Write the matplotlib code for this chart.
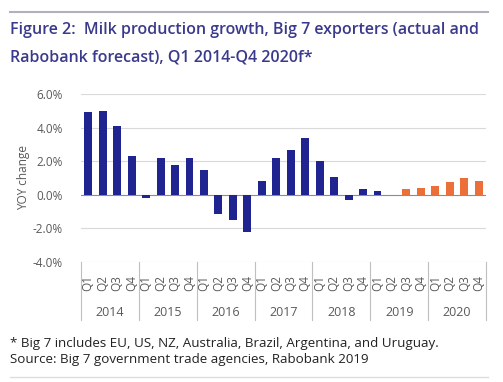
import matplotlib
matplotlib.use("Agg")
import matplotlib.pyplot as plt

years = ["2014", "2015", "2016", "2017", "2018", "2019", "2020"]
quarters = ["Q1", "Q2", "Q3", "Q4"]
actual = [4.95, 5.0, 4.1, 2.3,
          -0.2, 2.2, 1.75, 2.2,
          1.5, -1.15, -1.5, -2.2,
          0.82, 2.22, 2.68, 3.38,
          2.0, 1.03, -0.32, 0.37,
          0.2, -0.03]
forecast = [0.33, 0.39, 0.53, 0.74, 1.0, 0.84]
yticks = [-4, -2, 0, 2, 4, 6]

blue = "#1f2490"
orange = "#ec6f3a"
title_col = "#3a3a8c"
grey = "#595959"

plt.rcParams['font.family'] = ['Open Sans', 'DejaVu Sans']
fig = plt.figure(figsize=(5.03, 3.82), dpi=100)
W, H = 503, 382
left, right, top, bottom = 81, 486, 94, 262
ax = fig.add_axes([left / W, 1 - bottom / H, (right - left) / W, (bottom - top) / H])

n_act = len(actual)
xa = list(range(n_act))
xf = list(range(n_act, n_act + len(forecast)))
ax.bar(xa, actual, width=0.55, color=blue, zorder=3)
ax.bar(xf, forecast, width=0.55, color=orange, zorder=3)

ax.set_ylim(-4, 6)
ax.set_xlim(-0.5, 27.5)
ax.set_yticks(yticks)
ax.set_yticklabels([f"{v:.1f}%" for v in yticks], color=grey, fontsize=8.5)
ax.tick_params(axis='y', length=0, pad=13)
ax.set_xticks([])
for s in ax.spines.values():
    s.set_visible(False)
for v in yticks:
    ax.axhline(v, color="#d9d9d9" if v != 0 else "#8c8c8c", lw=0.8, zorder=1)
ax.set_ylabel("YOY change", color=grey, fontsize=8.5, labelpad=2)

tr = ax.get_xaxis_transform()
box_h = 58 / (bottom - top)
for k in range(len(years) + 1):
    xb = -0.5 + 4 * k
    ax.plot([xb, xb], [0, -box_h], transform=tr, color="#bfbfbf", lw=0.8, clip_on=False)
for i in range(len(years) * 4):
    ax.text(i, -21 / (bottom - top), quarters[i % 4], transform=tr, rotation=90,
            ha="center", va="center", fontsize=8.5, color=grey)
for k, y in enumerate(years):
    ax.text(4 * k + 1.5, -50 / (bottom - top), y, transform=tr, ha="center", va="center",
            fontsize=9, color=grey)

fig.add_artist(plt.Line2D([10 / W, 488 / W], [1 - 12 / H, 1 - 12 / H], color="#b0b0c0", lw=1.5))
fig.text(10 / W, 1 - 30 / H, "Figure 2:  Milk production growth, Big 7 exporters (actual and",
         fontsize=11.55, fontweight="semibold", color=title_col, va="center")
fig.text(10 / W, 1 - 57 / H, "Rabobank forecast), Q1 2014-Q4 2020f*",
         fontsize=11.55, fontweight="semibold", color=title_col, va="center")
fig.text(10 / W, 1 - 343 / H, "* Big 7 includes EU, US, NZ, Australia, Brazil, Argentina, and Uruguay.",
         fontsize=9.6, color="#222222", va="center")
fig.text(10 / W, 1 - 360 / H, "Source: Big 7 government trade agencies, Rabobank 2019",
         fontsize=9.6, color="#222222", va="center")
fig.add_artist(plt.Line2D([10 / W, 488 / W], [1 - 377 / H, 1 - 377 / H], color="#dddddd", lw=1))

fig.savefig("out.png", dpi=100)
